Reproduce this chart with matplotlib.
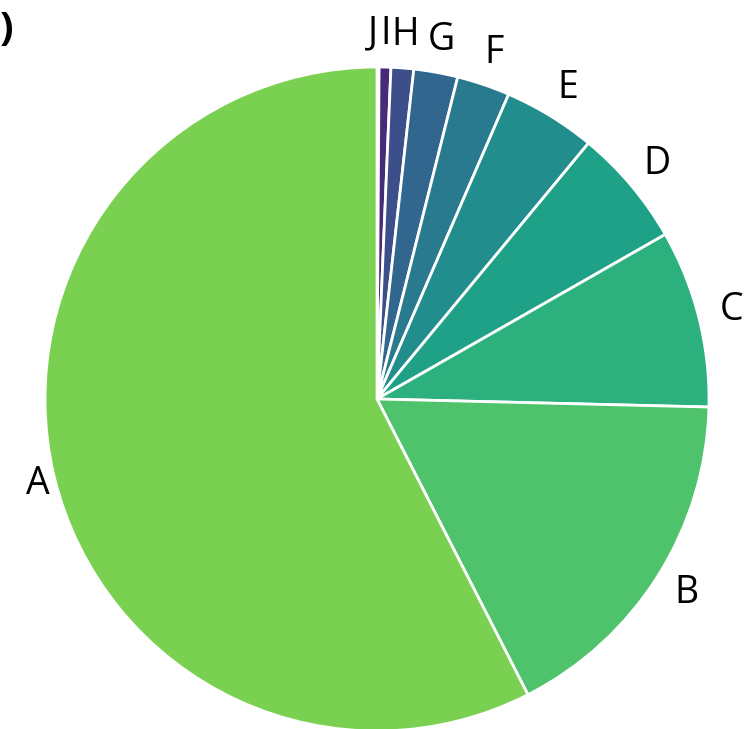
import matplotlib.pyplot as plt
import numpy as np

labels = ["J", "I", "H", "G", "F", "E", "D", "C", "B", "A"]
values = [0.1, 0.57, 1.1, 2.14, 2.58, 4.5, 5.75, 8.64, 17.1, 57.5]
cmap_pos = [0.0, 0.12, 0.24, 0.33, 0.41, 0.49, 0.57, 0.64, 0.72, 0.80]

plt.rcParams['font.family'] = ['Open Sans', 'DejaVu Sans']

W, H = 748, 729
fig = plt.figure(figsize=(W / 100, H / 100), dpi=100)
cx, cy, R = 377, 399, 332
ax = fig.add_axes([(cx - R) / W, (H - cy - R) / H, 2 * R / W, 2 * R / H])

colors = plt.cm.viridis(cmap_pos)
wedges, texts = ax.pie(values, labels=labels, colors=colors, startangle=90,
                       counterclock=False, labeldistance=1.1,
                       wedgeprops=dict(edgecolor='white', linewidth=2),
                       textprops=dict(fontsize=27))
for t in texts:
    t.set_horizontalalignment('center')
    t.set_verticalalignment('center')
# tiny J slice: push its label left so it clears I
texts[0].set_horizontalalignment('right')
# the big slice label sits a bit closer to the pie
x, y = texts[-1].get_position()
texts[-1].set_position((x * 0.955, y * 1.0))

ax.set_xlim(-1, 1)
ax.set_ylim(-1, 1)

# clipped panel tag at the top left
fig.text(14 / W, 1 - 29 / H, "(a)", ha='right', va='center',
         fontsize=29, fontweight='bold')

fig.savefig("out.png", dpi=100)
